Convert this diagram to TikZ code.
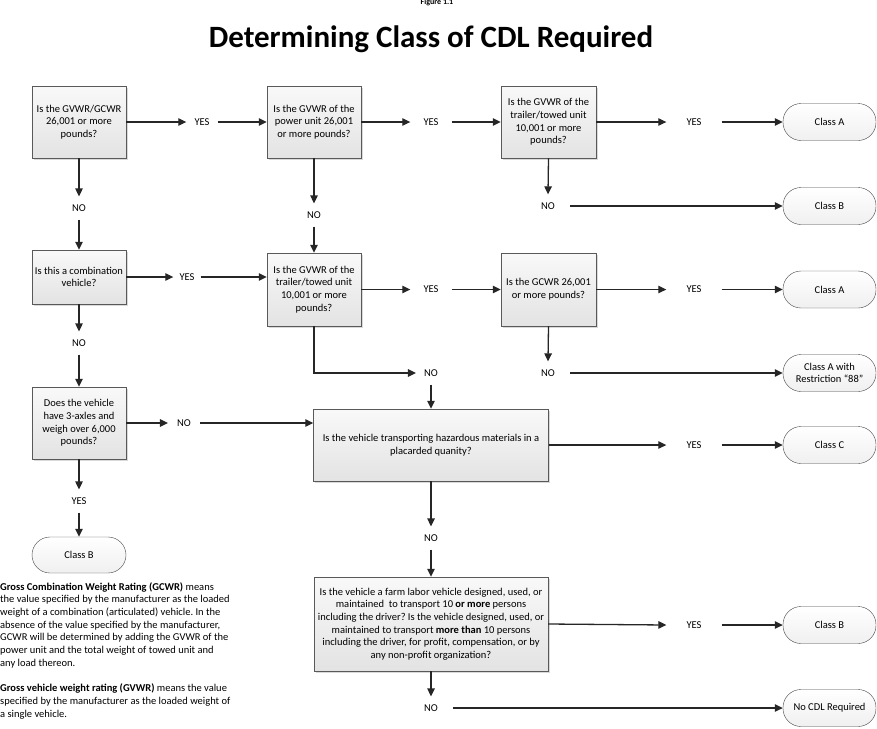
\documentclass[tikz,border=0pt]{standalone}
\usepackage{fontspec}
\setmainfont{Carlito}
\usetikzlibrary{arrows.meta,shadows}
\frenchspacing

\begin{document}
\begin{tikzpicture}[x=1pt,y=-1pt,
    question/.style={draw=gray!70!black,top color=gray!5,bottom color=gray!22,
                     drop shadow={shadow xshift=1.5pt,shadow yshift=-1.5pt,opacity=0.3},
                     align=center,inner sep=2pt,font=\fontsize{10.5}{12.7}\selectfont},
    result/.style={draw=gray!55!black,top color=white,bottom color=gray!12,
                   rounded corners=18pt,minimum width=93pt,minimum height=37pt,
                   align=center,inner sep=1pt,font=\fontsize{10.5}{12.7}\selectfont},
    answer/.style={inner xsep=#1,inner ysep=8pt,font=\fontsize{10.5}{12}\selectfont},
    answer/.default=8pt,
    flow/.style={color=black!85,line width=1.3pt,-{Triangle[length=8pt,width=7.5pt]}}]

    \useasboundingbox (0,0) rectangle (877,728);

    \node [anchor=base,font=\bfseries\fontsize{8}{9}\selectfont] (fig) at (437,5) {Figure 1.1};
    \node [anchor=base,font=\bfseries\fontsize{31}{35}\selectfont] (title) at (431,47) {Determining Class of CDL Required};

    \node [question,minimum width=94pt,minimum height=72pt] (q1) at (79,122)   {Is the GVWR/GCWR\\26,001 or more\\pounds?};
    \node [question,minimum width=94pt,minimum height=72pt] (q2) at (314,122)  {Is the GVWR of the\\power unit 26,001\\or more pounds?};
    \node [question,minimum width=95pt,minimum height=72pt] (q3) at (548.5,122) {Is the GVWR of the\\trailer/towed unit\\10,001 or more\\pounds?};
    \node [question,minimum width=94pt,minimum height=54pt] (q4) at (79,277)   {Is this a combination\\vehicle?};
    \node [question,minimum width=94pt,minimum height=73pt] (q5) at (314,289.5) {Is the GVWR of the\\trailer/towed unit\\10,001 or more\\pounds?};
    \node [question,minimum width=95pt,minimum height=73pt] (q6) at (548.5,289.5) {Is the GCWR 26,001\\or more pounds?};
    \node [question,minimum width=94pt,minimum height=72pt] (q7) at (79,423)   {Does the vehicle\\have 3-axles and\\weigh over 6,000\\pounds?};
    \node [question,minimum width=235pt,minimum height=72pt] (hazmat) at (431,445)
          {Is the vehicle transporting hazardous materials in a\\placarded quanity?};
    \node [question,minimum width=234pt,minimum height=94pt] (farm) at (431,624)
          {Is the vehicle a farm labor vehicle designed, used, or\\maintained\ \ to transport 10 \textbf{or more} persons\\including the driver? Is the vehicle designed, used, or\\maintained to transport \textbf{more than} 10 persons\\including the driver, for profit, compensation, or by\\any non-profit organization?};

    \node [result] (classA1)  at (829.5,122)   {Class A};
    \node [result] (classB1)  at (829.5,206)   {Class B};
    \node [result] (classA2)  at (829.5,289.5) {Class A};
    \node [result] (classA88) at (829.5,373)   {Class A with\\Restriction “88”};
    \node [result] (classC)   at (829.5,445)   {Class C};
    \node [result] (classB2)  at (829.5,625)   {Class B};
    \node [result] (nocdl)    at (829.5,708)   {No CDL Required};
    \node [result,minimum width=94pt,minimum height=36pt] (classB3) at (79,555) {Class B};

    \node [answer]      (yes1) at (202,122)   {YES};
    \node [answer=13pt] (yes2) at (431,122)   {YES};
    \node [answer=20pt] (yes3) at (694,122)   {YES};
    \node [answer=6pt]  (yes4) at (187,277)   {YES};
    \node [answer=13pt] (yes5) at (431,289.5) {YES};
    \node [answer=20pt] (yes6) at (694,289.5) {YES};
    \node [answer]      (yes7) at (79,501)    {YES};
    \node [answer=20pt] (yesC) at (694,445)   {YES};
    \node [answer=20pt] (yesB) at (694,625)   {YES};
    \node [answer]      (no1)  at (79,208)    {NO};
    \node [answer]      (no2)  at (314,215)   {NO};
    \node [answer=15pt] (no3)  at (548,206)   {NO};
    \node [answer]      (no4)  at (79,343)    {NO};
    \node [answer]      (no5)  at (431,373)   {NO};
    \node [answer=15pt] (no6)  at (548,373)   {NO};
    \node [answer=9pt]  (no7)  at (184,423)   {NO};
    \node [answer]      (no8)  at (431,538)   {NO};
    \node [answer=15pt] (no9)  at (431,708)   {NO};

    \draw [flow] (q1.east) -- (yes1.west);
    \draw [flow] (yes1.east) -- (q2.west);
    \draw [flow] (q2.east) -- (yes2.west);
    \draw [flow] (yes2.east) -- (q3.west);
    \draw [flow] (q3.east) -- (yes3.west);
    \draw [flow] (yes3.east) -- (classA1.west);
    \draw [flow] (q3.south) -- (no3.north);
    \draw [flow] (no3.east) -- (classB1.west);

    \draw [flow] (q1.south) -- (no1.north);
    \draw [flow] (no1.south) -- (q4.north);
    \draw [flow] (q2.south) -- (no2.north);
    \draw [flow] (no2.south) -- (q5.north);

    \draw [flow] (q4.east) -- (yes4.west);
    \draw [flow] (yes4.east) -- (yes4.east -| q5.west);
    \draw [flow] (q5.east) -- (yes5.west);
    \draw [flow] (yes5.east) -- (q6.west);
    \draw [flow] (q6.east) -- (yes6.west);
    \draw [flow] (yes6.east) -- (classA2.west);
    \draw [flow] (q6.south) -- (no6.north);
    \draw [flow] (no6.east) -- (classA88.west);
    \draw [flow] (q5.south) |- (no5.west);
    \draw [flow] (no5.south) -- (hazmat.north);

    \draw [flow] (q4.south) -- (no4.north);
    \draw [flow] (no4.south) -- (q7.north);
    \draw [flow] (q7.east) -- (no7.west);
    \draw [flow] (no7.east) -- (no7.east -| hazmat.west);
    \draw [flow] (q7.south) -- (yes7.north);
    \draw [flow] (yes7.south) -- (classB3.north);

    \draw [flow] (hazmat.east) -- (yesC.west);
    \draw [flow] (yesC.east) -- (classC.west);
    \draw [flow] (hazmat.south) -- (no8.north);
    \draw [flow] (no8.south) -- (farm.north);
    \draw [flow] (farm.east) -- (yesB.west);
    \draw [flow] (yesB.east) -- (classB2.west);
    \draw [flow] (farm.south) -- (no9.north);
    \draw [flow] (no9.east) -- (nocdl.west);

    \node [anchor=north west,inner sep=0pt,align=left,font=\fontsize{10.5}{12.7}\selectfont] (gcwr) at (0,582)
          {\textbf{Gross Combination Weight Rating (GCWR)} means\\
           the value specified by the manufacturer as the loaded\\
           weight of a combination (articulated) vehicle. In the\\
           absence of the value specified by the manufacturer,\\
           GCWR will be determined by adding the GVWR of the\\
           power unit and the total weight of towed unit and\\
           any load thereon.\\[12.7pt]
           \textbf{Gross vehicle weight rating (GVWR)} means the value\\
           specified by the manufacturer as the loaded weight of\\
           a single vehicle.};
\end{tikzpicture}
\end{document}
